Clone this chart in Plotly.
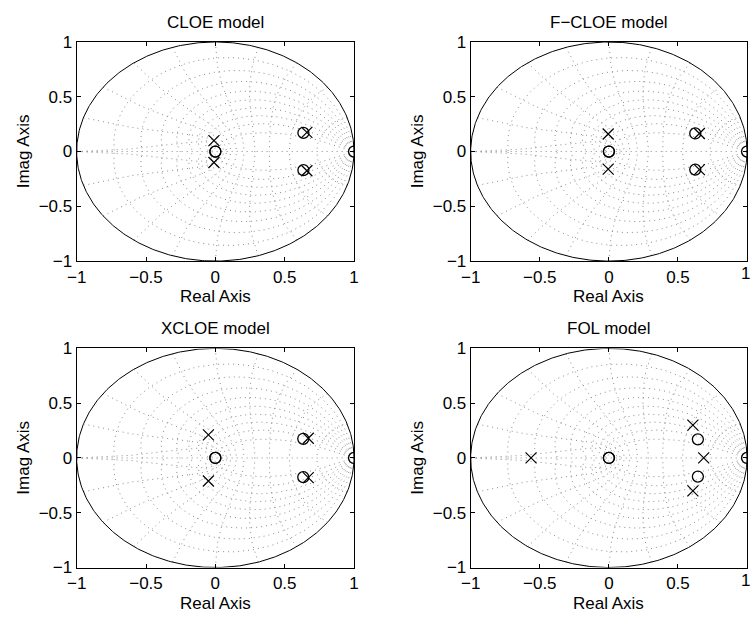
import numpy as np
import plotly.graph_objects as go

# ---------------- data ----------------
titles = ["CLOE model", "F\u2212CLOE model", "XCLOE model", "FOL model"]

cloe_pole_re = [0.66, 0.66, -0.01, -0.01]
cloe_pole_im = [0.175, -0.175, 0.10, -0.10]
cloe_zero_re = [0.635, 0.635, 0.0, 0.0, 1.0]
cloe_zero_im = [0.17, -0.17, 0.0, 0.0, 0.0]

fcloe_pole_re = [0.655, 0.655, -0.005, -0.005]
fcloe_pole_im = [0.165, -0.165, 0.16, -0.16]
fcloe_zero_re = [0.625, 0.625, 0.0, 0.0, 1.0]
fcloe_zero_im = [0.165, -0.165, 0.0, 0.0, 0.0]

xcloe_pole_re = [0.67, 0.67, -0.05, -0.05]
xcloe_pole_im = [0.18, -0.18, 0.21, -0.21]
xcloe_zero_re = [0.634, 0.634, 0.0, 0.0, 1.0]
xcloe_zero_im = [0.175, -0.175, 0.0, 0.0, 0.0]

fol_pole_re = [0.608, 0.608, 0.686, -0.563]
fol_pole_im = [0.30, -0.30, 0.0, 0.0]
fol_zero_re = [0.644, 0.644, 0.0, 0.0, 1.0]
fol_zero_im = [0.17, -0.17, 0.0, 0.0, 0.0]

tick_vals = [-1, -0.5, 0, 0.5, 1]
tick_text = ["\u22121", "\u22120.5", "0", "0.5", "1"]

# zgrid settings (MATLAB defaults)
zeta_vals = [0.1, 0.2, 0.3, 0.4, 0.5, 0.6, 0.7, 0.8, 0.9]
wn_vals = [0.1, 0.2, 0.3, 0.4, 0.5, 0.6, 0.7, 0.8, 0.9, 1.0]  # in units of pi/T

models = [
    (cloe_pole_re, cloe_pole_im, cloe_zero_re, cloe_zero_im),
    (fcloe_pole_re, fcloe_pole_im, fcloe_zero_re, fcloe_zero_im),
    (xcloe_pole_re, xcloe_pole_im, xcloe_zero_re, xcloe_zero_im),
    (fol_pole_re, fol_pole_im, fol_zero_re, fol_zero_im),
]

# ---------------- layout geometry ----------------
W, H = 756, 626
col_px = [(68, 351), (470, 752)]
row_px = [(34, 260), (350, 576)]

def xdom(c):
    return [col_px[c][0] / W, col_px[c][1] / W]

def ydom(r):
    return [1 - row_px[r][1] / H, 1 - row_px[r][0] / H]

fig = go.Figure()
FONT = "Liberation Sans, Arial, Helvetica, sans-serif"
FS = 17
grid_line = dict(color="#8c8c8c", width=1, dash="1px,4px")

def grid_xy():
    xs, ys = [], []
    # damping ratio spirals
    t = np.arange(0, 21) * np.pi / 20
    for z in zeta_vals:
        m = np.tan(np.arcsin(z))
        zz = np.exp(t * (-m + 1j))
        for sgn in (1, -1):
            xs += list(zz.real) + [None]
            ys += list(sgn * zz.imag) + [None]
    # natural frequency curves
    th = np.pi / 2 + np.arange(0, 11) * np.pi / 20
    eit = np.exp(1j * th)
    for w in wn_vals:
        zz = np.exp(w * np.pi * eit)
        for sgn in (1, -1):
            xs += list(zz.real) + [None]
            ys += list(sgn * zz.imag) + [None]
    # real axis
    xs += [-1, 1, None]
    ys += [0, 0, None]
    return xs, ys

gx, gy = grid_xy()
phi = np.linspace(0, 2 * np.pi, 500)

for k, (pr, pi_, zr, zi) in enumerate(models):
    r, c = divmod(k, 2)
    ax = "" if k == 0 else str(k + 1)
    xa, ya = "x" + ax, "y" + ax
    fig.add_trace(go.Scatter(x=gx, y=gy, mode="lines", line=grid_line,
                             xaxis=xa, yaxis=ya, hoverinfo="skip", showlegend=False))
    fig.add_trace(go.Scatter(x=np.cos(phi), y=np.sin(phi), mode="lines",
                             line=dict(color="black", width=1),
                             xaxis=xa, yaxis=ya, hoverinfo="skip", showlegend=False))
    fig.add_trace(go.Scatter(x=zr, y=zi, mode="markers",
                             marker=dict(symbol="circle-open", size=11, color="black",
                                         line=dict(width=1.3, color="black")),
                             xaxis=xa, yaxis=ya, showlegend=False, cliponaxis=True))
    fig.add_trace(go.Scatter(x=pr, y=pi_, mode="markers",
                             marker=dict(symbol="x-thin", size=11, color="black",
                                         line=dict(width=1.2, color="black")),
                             xaxis=xa, yaxis=ya, showlegend=False, cliponaxis=True))

    xt_text = list(tick_text)
    if c == 1:
        xt_text[-1] = ""
    base = dict(range=[-1, 1], tickvals=tick_vals,
                showgrid=False, zeroline=False, showline=True,
                linecolor="black", linewidth=1, mirror="allticks",
                ticks="inside", ticklen=4, tickcolor="black",
                tickfont=dict(family=FONT, size=FS, color="black"))
    fig.layout["xaxis" + ax] = dict(domain=xdom(c), anchor=ya, ticktext=xt_text, **base)
    fig.layout["yaxis" + ax] = dict(domain=ydom(r), anchor=xa, ticktext=tick_text, **base)

    x0, x1 = col_px[c]
    y0, y1 = row_px[r]
    cx = (x0 + x1) / 2 / W
    if c == 1:
        fig.add_annotation(text=tick_text[-1], x=1.0, y=1 - (y1 + 13) / H,
                           xref="paper", yref="paper", showarrow=False,
                           font=dict(family=FONT, size=FS, color="black"),
                           xanchor="right", yanchor="middle", borderpad=0)
    # title
    fig.add_annotation(text=titles[k], x=cx, y=1 - (y0 - 20) / H, xref="paper", yref="paper",
                       showarrow=False, font=dict(family=FONT, size=FS, color="black"),
                       xanchor="center", yanchor="middle")
    # x label
    fig.add_annotation(text="Real Axis", x=cx, y=1 - (y1 + 37) / H, xref="paper", yref="paper",
                       showarrow=False, font=dict(family=FONT, size=FS, color="black"),
                       xanchor="center", yanchor="middle")
    # y label
    fig.add_annotation(text="Imag Axis", x=(x0 - 54) / W, y=1 - (y0 + y1) / 2 / H,
                       xref="paper", yref="paper", textangle=-90,
                       showarrow=False, font=dict(family=FONT, size=FS, color="black"),
                       xanchor="center", yanchor="middle")

fig.update_layout(width=W, height=H, margin=dict(l=0, r=0, t=0, b=0),
                  paper_bgcolor="white", plot_bgcolor="white", showlegend=False)

fig.write_html("out.html", config={"displayModeBar": False},
               post_script="document.body.style.margin='0px';"
                           "document.body.style.overflow='hidden';")
